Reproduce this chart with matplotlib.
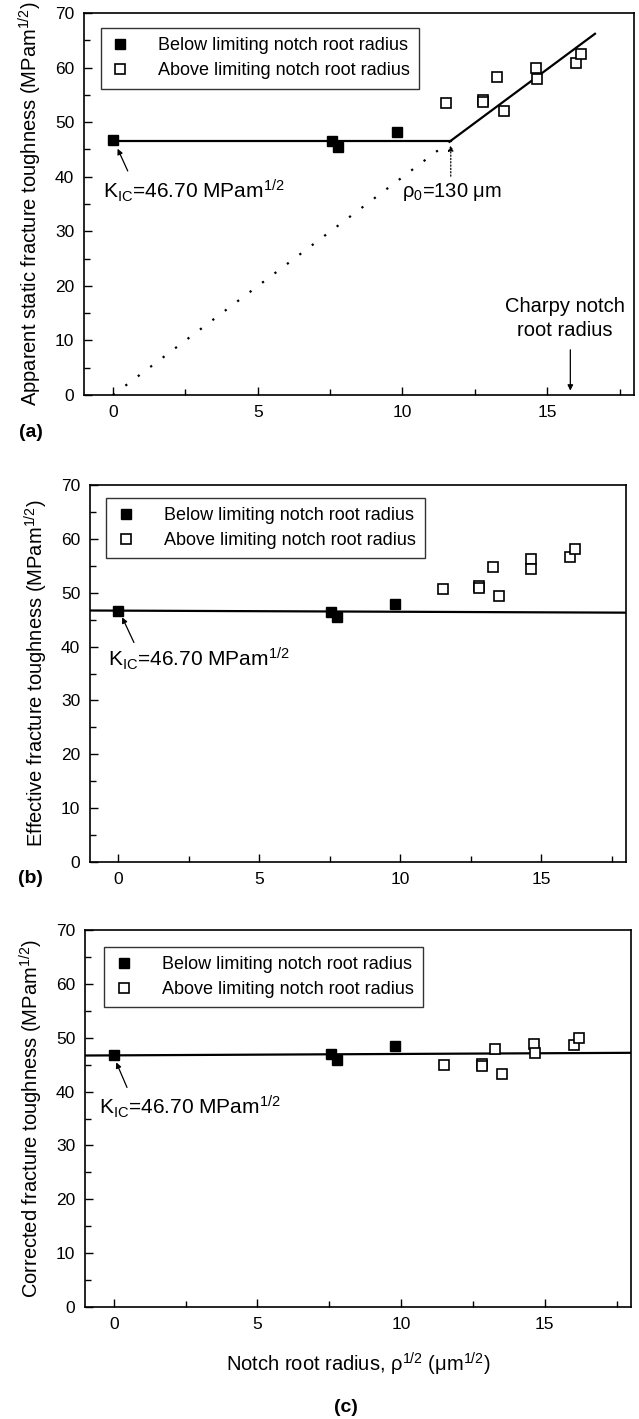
import matplotlib
matplotlib.use("Agg")
import matplotlib.pyplot as plt
from matplotlib.ticker import MultipleLocator

plt.rcParams['font.family'] = ['Liberation Sans Narrow', 'Liberation Sans', 'DejaVu Sans']
plt.rcParams['mathtext.default'] = 'regular'

# ---- data (x = sqrt of notch root radius, um^1/2) ----
below_x = [0.0, 7.56, 7.76, 9.8]
above_x = [11.5, 12.8, 12.8, 13.28, 13.5, 14.62, 14.65, 16.0, 16.18]

# (a) apparent static fracture toughness
below_a = [46.7, 46.6, 45.5, 48.2]
above_a = [53.5, 54.1, 53.7, 58.3, 52.0, 60.0, 58.0, 60.8, 62.5]
flat_x = [0.0, 11.67]
flat_y = [46.6, 46.6]
rise_x = [11.67, 16.65]
rise_y = [46.6, 66.2]
dot_x = [0.0, 11.67]
dot_y = [0.0, 46.6]

# (b) effective fracture toughness
below_b = [46.7, 46.5, 45.5, 48.0]
above_b = [50.7, 51.3, 50.9, 54.7, 49.4, 56.2, 54.4, 56.7, 58.1]
fit_b_x = [-1.0, 18.0]
fit_b_y = [46.7, 46.3]

# (c) corrected fracture toughness
below_c = [46.8, 47.0, 45.9, 48.5]
above_c = [45.0, 45.1, 44.7, 48.0, 43.3, 48.8, 47.2, 48.7, 49.9]
fit_c_x = [-1.0, 18.0]
fit_c_y = [46.7, 47.2]

ylabels = ["Apparent static fracture toughness (MPam$^{1/2}$)",
           "Effective fracture toughness (MPam$^{1/2}$)",
           "Corrected fracture toughness (MPam$^{1/2}$)"]
kic_text = "K$_{IC}$=46.70 MPam$^{1/2}$"

fig = plt.figure(figsize=(6.39, 14.19), dpi=100)
ax_a = fig.add_axes([0.1315, 0.7216, 0.8607, 0.2692])
ax_b = fig.add_axes([0.1408, 0.3925, 0.8388, 0.2657])
ax_c = fig.add_axes([0.1330, 0.0789, 0.8545, 0.2657])


def style(ax, ylabel):
    ax.set_xlim(-1, 18)
    ax.set_ylim(0, 70)
    ax.xaxis.set_major_locator(MultipleLocator(5))
    ax.xaxis.set_minor_locator(MultipleLocator(2.5))
    ax.yaxis.set_major_locator(MultipleLocator(10))
    ax.yaxis.set_minor_locator(MultipleLocator(5))
    ax.tick_params(which='both', direction='in', top=False, right=False,
                   labelsize=12.5, width=1)
    ax.tick_params(which='major', length=6, pad=7)
    ax.tick_params(which='minor', length=4)
    for s in ax.spines.values():
        s.set_linewidth(1.2)
    ax.set_ylabel(ylabel, fontsize=14.5, labelpad=8)


def points(ax, yb, ya, legend_box):
    ax.plot(below_x, yb, 's', color='black', markersize=7,
            label='Below limiting notch root radius', zorder=3)
    ax.plot(above_x, ya, 's', markerfacecolor='white', markeredgecolor='black',
            markeredgewidth=1.2, markersize=7,
            label='Above limiting notch root radius', zorder=3)
    leg = ax.legend(loc='upper left', bbox_to_anchor=legend_box, fontsize=13,
                    frameon=True, fancybox=False, edgecolor='black',
                    handletextpad=1.5, borderpad=0.5, labelspacing=0.45,
                    handlelength=1.2, borderaxespad=0)
    leg.get_frame().set_linewidth(1.0)


def kic(ax, txt_xy, tip_xy, start_xy):
    ax.text(txt_xy[0], txt_xy[1], kic_text, fontsize=15, va='center', ha='left')
    ax.annotate('', xy=tip_xy, xytext=start_xy,
                arrowprops=dict(arrowstyle='-|>', color='black', lw=0.9,
                                mutation_scale=8))


# ---- (a) ----
style(ax_a, ylabels[0])
points(ax_a, below_a, above_a, (0.03, 0.96))
ax_a.plot(flat_x, flat_y, color='black', lw=1.6, zorder=2)
ax_a.plot(rise_x, rise_y, color='black', lw=1.6, zorder=2)
ax_a.plot(dot_x, dot_y, color='black', lw=1.6, linestyle=(0, (1, 6)), zorder=2)
kic(ax_a, (-0.35, 37.5), (0.12, 45.6), (0.55, 40.6))
ax_a.text(10.0, 37.3, "$\\rho_0$=130 $\\mu$m", fontsize=14.5, va='center', ha='left')
ax_a.annotate('', xy=(11.67, 46.3), xytext=(11.67, 39.6),
              arrowprops=dict(arrowstyle='-|>', color='black', lw=0.9,
                              linestyle=':', mutation_scale=8))
ax_a.text(15.6, 14.0, "Charpy notch\nroot radius", fontsize=14.5,
          ha='center', va='center', linespacing=1.3)
ax_a.annotate('', xy=(15.8, 0.3), xytext=(15.8, 8.8),
              arrowprops=dict(arrowstyle='-|>', color='black', lw=0.9,
                              mutation_scale=8))
fig.text(0.048, 0.695, "(a)", fontsize=14, fontweight='bold', va='center', ha='center')

# ---- (b) ----
style(ax_b, ylabels[1])
points(ax_b, below_b, above_b, (0.03, 0.965))
ax_b.plot(fit_b_x, fit_b_y, color='black', lw=1.6, zorder=2)
kic(ax_b, (-0.35, 37.8), (0.1, 45.9), (0.6, 40.3))
fig.text(0.048, 0.381, "(b)", fontsize=14, fontweight='bold', va='center', ha='center')

# ---- (c) ----
style(ax_c, ylabels[2])
points(ax_c, below_c, above_c, (0.035, 0.955))
ax_c.plot(fit_c_x, fit_c_y, color='black', lw=1.6, zorder=2)
kic(ax_c, (-0.5, 37.2), (0.05, 45.9), (0.5, 40.3))
ax_c.set_xlabel("Notch root radius, $\\rho^{1/2}$ ($\\mu$m$^{1/2}$)", fontsize=14.5,
                labelpad=14)
fig.text(0.542, 0.0078, "(c)", fontsize=14, fontweight='bold', va='center', ha='center')

fig.savefig("out.png", dpi=100)
